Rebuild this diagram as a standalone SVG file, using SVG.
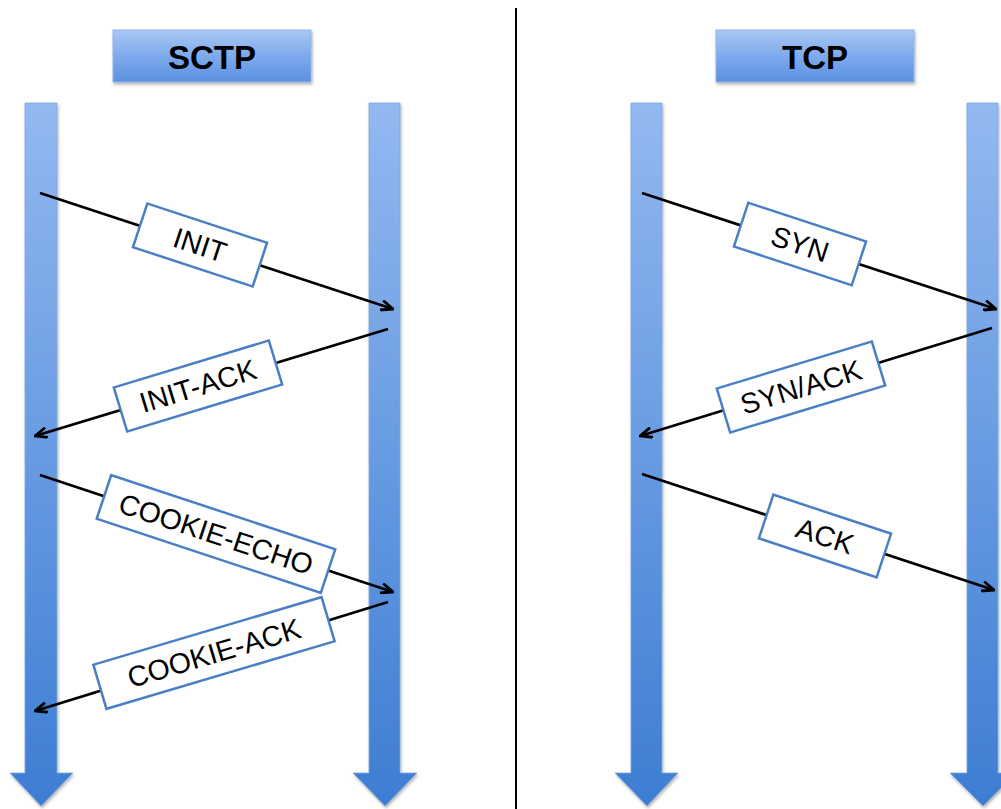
<svg xmlns="http://www.w3.org/2000/svg" width="1001" height="809" viewBox="0 0 1001 809">
<defs>
<linearGradient id="barGrad" x1="0" y1="0" x2="0" y2="1">
<stop offset="0" stop-color="#93b9f1"/>
<stop offset="1" stop-color="#3d7dd2"/>
</linearGradient>
<linearGradient id="hdrGrad" x1="0" y1="0" x2="0" y2="1">
<stop offset="0" stop-color="#a9c8f4"/>
<stop offset="0.5" stop-color="#7eaaec"/>
<stop offset="1" stop-color="#5a91e0"/>
</linearGradient>
<filter id="shadow" x="-20%" y="-5%" width="140%" height="115%">
<feDropShadow dx="1" dy="2" stdDeviation="1.5" flood-color="#000" flood-opacity="0.3"/>
</filter>
<marker id="arr" markerUnits="userSpaceOnUse" viewBox="0 0 14 12" refX="13" refY="6" markerWidth="14" markerHeight="12" orient="auto">
<path d="M1,1 L13,6 L1,11" fill="none" stroke="#000" stroke-width="2.8" stroke-linejoin="miter"/>
</marker>
</defs>
<style>
.bar{fill:url(#barGrad);stroke:#7fa6dc;stroke-width:0.8;filter:url(#shadow)}
.hdr{fill:url(#hdrGrad);stroke:#8fb3e8;stroke-width:1;filter:url(#shadow)}
.hdrtxt{font-family:"Liberation Sans",Arial,sans-serif;font-weight:bold;font-size:33px;fill:#000;text-anchor:middle}
.msg{stroke:#000;stroke-width:2.7;fill:none;marker-end:url(#arr)}
.lbl{fill:#fff;stroke:#4a7fc4;stroke-width:2.5}
.lbltxt{font-family:"Liberation Sans",Arial,sans-serif;font-size:28.5px;fill:#000;text-anchor:middle}
</style>
<rect width="1001" height="809" fill="#fff"/>
<line id="divider" x1="516" y1="8" x2="516" y2="809" stroke="#000" stroke-width="2"/>

<g id="sctp-header">
<rect class="hdr" x="113" y="30" width="198" height="52"/>
<text class="hdrtxt" x="212" y="69">SCTP</text>
</g>
<g id="tcp-header">
<rect class="hdr" x="716" y="30" width="198" height="52"/>
<text class="hdrtxt" x="815" y="69">TCP</text>
</g>

<g id="sctp-client">
<path class="bar" d="M25,103 H57 V773 H73 L41,806 L10,773 H25 Z"/>
</g>
<g id="sctp-server">
<path class="bar" d="M369,103 H400 V773 H417 L385,806 L353,773 H369 Z"/>
</g>
<g id="tcp-client">
<path class="bar" d="M631,103 H662 V773 H678 L647,806 L615,773 H631 Z"/>
</g>
<g id="tcp-server">
<path class="bar" d="M967,103 H998 V773 H1016 L983,806 L950,773 H967 Z"/>
</g>

<g id="connectors">
<line class="msg" x1="40" y1="193" x2="393" y2="309"/>
<line class="msg" x1="388" y1="329" x2="35" y2="436"/>
<line class="msg" x1="40" y1="475" x2="393" y2="592"/>
<line class="msg" x1="388" y1="602" x2="35" y2="711"/>
<line class="msg" x1="642" y1="193" x2="996" y2="309"/>
<line class="msg" x1="992" y1="328" x2="640" y2="436"/>
<line class="msg" x1="642" y1="474" x2="994" y2="590"/>
</g>

<g id="label-init" transform="translate(200,245) rotate(18.2)">
<rect class="lbl" x="-63" y="-23" width="126" height="46"/>
<text class="lbltxt" x="0" y="10">INIT</text>
</g>
<g id="label-init-ack" transform="translate(198,386) rotate(-16.9)">
<rect class="lbl" x="-81" y="-23" width="162" height="46"/>
<text class="lbltxt" x="0" y="10">INIT-ACK</text>
</g>
<g id="label-cookie-echo" transform="translate(216,534) rotate(18.3)">
<rect class="lbl" x="-118" y="-23" width="236" height="46"/>
<text class="lbltxt" x="0" y="10">COOKIE-ECHO</text>
</g>
<g id="label-cookie-ack" transform="translate(214,653) rotate(-16.5)">
<rect class="lbl" x="-119" y="-23" width="238" height="46"/>
<text class="lbltxt" x="0" y="10">COOKIE-ACK</text>
</g>
<g id="label-syn" transform="translate(800,244) rotate(18.2)">
<rect class="lbl" x="-62" y="-23" width="124" height="46"/>
<text class="lbltxt" x="0" y="10">SYN</text>
</g>
<g id="label-synack" transform="translate(801,387) rotate(-16.9)">
<rect class="lbl" x="-81" y="-23" width="162" height="46"/>
<text class="lbltxt" x="0" y="10">SYN/ACK</text>
</g>
<g id="label-ack" transform="translate(825,536) rotate(18.3)">
<rect class="lbl" x="-62" y="-23" width="124" height="46"/>
<text class="lbltxt" x="0" y="10">ACK</text>
</g>
</svg>
